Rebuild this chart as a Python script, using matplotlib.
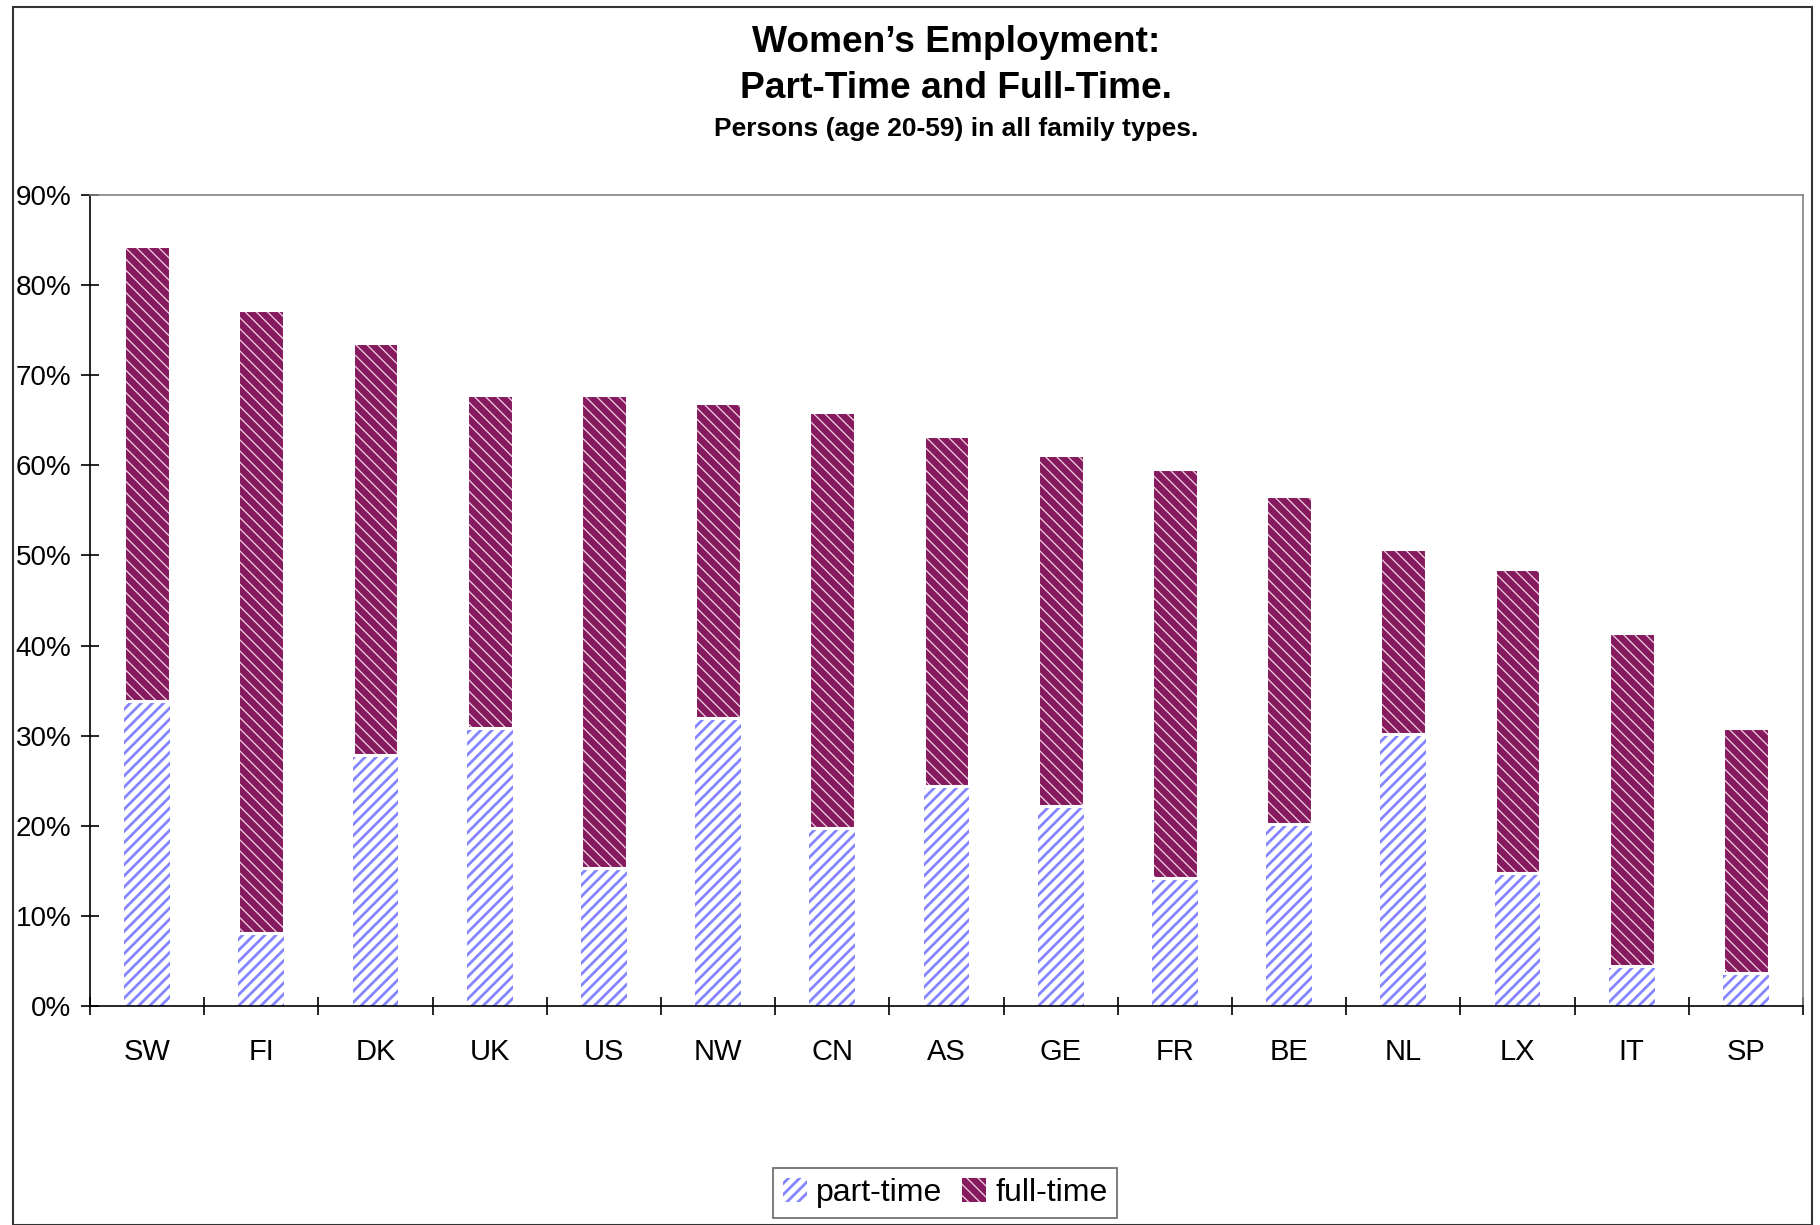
import matplotlib.pyplot as plt
import numpy as np
from matplotlib.patches import Rectangle
from matplotlib.ticker import PercentFormatter

countries = ['SW', 'FI', 'DK', 'UK', 'US', 'NW', 'CN', 'AS', 'GE', 'FR', 'BE', 'NL', 'LX', 'IT', 'SP']
part_time = [33.8, 8.1, 27.8, 30.8, 15.3, 32.0, 19.7, 24.4, 22.2, 14.2, 20.2, 30.2, 14.8, 4.4, 3.7]
full_time = [50.5, 69.1, 45.8, 37.0, 52.5, 34.9, 46.2, 38.8, 38.9, 45.4, 36.4, 20.5, 33.7, 37.0, 27.2]

plt.rcParams['font.family'] = ['Liberation Sans', 'DejaVu Sans']


def hatch_lw(patches, lw):
    # hatch width is global in matplotlib, so set it around each patch's draw
    for p in patches:
        if hasattr(p, 'set_hatch_linewidth'):
            p.set_hatch_linewidth(lw)
        orig = p.draw

        def draw(renderer, orig=orig):
            with plt.rc_context({'hatch.linewidth': lw}):
                orig(renderer)
        p.draw = draw


fig = plt.figure(figsize=(18.2, 12.25), dpi=100)
ax = fig.add_axes([90 / 1820, 1 - 1006 / 1225, (1803 - 90) / 1820, (1006 - 195) / 1225])

x = np.arange(len(countries))
w = 0.40
bp = ax.bar(x, part_time, w, color='white', edgecolor='#8585ff', linewidth=0,
            hatch='///', label='part-time')
hatch_lw(bp, 2.0)
bf = ax.bar(x, full_time, w, bottom=part_time, color='#861a5e', edgecolor='#f0d4e4',
            linewidth=0, hatch='\\\\\\', label='full-time')
hatch_lw(bf, 0.9)
# thin white border on full-time bars, like the original
ax.bar(x, full_time, w, bottom=part_time, color='none', edgecolor='white', linewidth=2.2)

ax.set_xlim(-0.5, len(countries) - 0.5)
ax.set_ylim(0, 90)
ax.set_yticks(np.arange(0, 91, 10))
ax.yaxis.set_major_formatter(PercentFormatter(decimals=0))
ax.set_xticks(x)
ax.set_xticklabels(countries)
ax.set_xticks(np.arange(-0.5, len(countries), 1), minor=True)
ax.tick_params(axis='x', which='major', length=0, pad=23, labelsize=21)
ax.tick_params(axis='x', which='minor', direction='inout', length=13, width=1.2)
ax.tick_params(axis='y', direction='inout', length=13, width=1.2, pad=7, labelsize=20)
for s in ['left', 'bottom']:
    ax.spines[s].set_color('black')
    ax.spines[s].set_linewidth(1.2)
for s in ['top', 'right']:
    ax.spines[s].set_color('#808080')
    ax.spines[s].set_linewidth(1.2)

cx = 956 / 1820
fig.text(cx, 1 - 42 / 1225, "Women\u2019s Employment:", ha='center', va='center',
         fontsize=26.7, fontweight='bold')
fig.text(cx, 1 - 89 / 1225, "Part-Time and Full-Time.", ha='center', va='center',
         fontsize=26.7, fontweight='bold')
fig.text(cx, 1 - 129 / 1225, "Persons (age 20-59) in all family types.", ha='center',
         va='center', fontsize=19, fontweight='bold')

leg = fig.legend(handles=[bp, bf], loc='center', bbox_to_anchor=(945 / 1820, 1 - 1193 / 1225),
                 ncol=2, fontsize=23, frameon=True, fancybox=False, handlelength=0.75,
                 handleheight=0.75, handletextpad=0.3, columnspacing=0.6, borderpad=0.3)
leg.get_frame().set_edgecolor('#404040')
leg.get_frame().set_linewidth(1.2)
hatch_lw(leg.get_patches()[:1], 2.0)
hatch_lw(leg.get_patches()[1:], 0.9)

fig.patches.append(Rectangle((13 / 1820, 0), (1812 - 13) / 1820, 1 - 7 / 1225,
                             transform=fig.transFigure, fill=False, edgecolor='#333333',
                             linewidth=1.5))

fig.savefig('out.png', dpi=100)
